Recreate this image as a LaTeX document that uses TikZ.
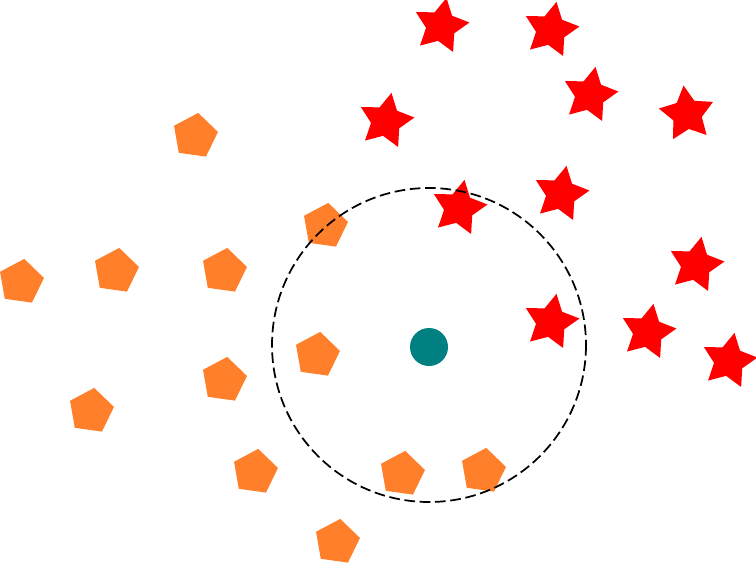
\documentclass[tikz,border=0pt]{standalone}
\usepackage{tikz}
\usetikzlibrary{shapes.geometric,positioning}

\definecolor{pentorange}{RGB}{255,127,42}
\definecolor{starred}{RGB}{255,0,0}
\definecolor{queryteal}{RGB}{0,128,128}

\begin{document}
\begin{tikzpicture}[
x=0.75pt, y=-0.75pt,
pent/.style={regular polygon, regular polygon sides=5, fill=pentorange, draw=none,
  minimum size=35pt, inner sep=0pt, rotate=-8},
staricon/.style={star, star points=5, star point ratio=1.9, fill=starred, draw=none,
  minimum size=43pt, inner sep=0pt, rotate=-11},
query/.style={circle, fill=queryteal, draw=none, minimum size=28.5pt, inner sep=0pt},
radius line/.style={draw=black, line width=1.3pt, dash pattern=on 8pt off 3.5pt}
]
\useasboundingbox (0,0) rectangle (756,562);

% Class A (pentagons)
\node[pent] (p1) at (195,136) {};
\node[pent] (p2) at (21,282) {};
\node[pent] (p3) at (116,271) {};
\node[pent] (p4) at (224,271) {};
\node[pent] (p5) at (325,226) {};
\node[pent] (p6) at (317,355) {};
\node[pent] (p7) at (224,380) {};
\node[pent] (p8) at (91,411) {};
\node[pent] (p9) at (255,472) {};
\node[pent] (p10) at (402,474) {};
\node[pent] (p11) at (483,471) {};
\node[pent] (p12) at (337,542) {};

% Class B (stars)
\node[staricon] (s1) at (441,26) {};
\node[staricon] (s2) at (551,30) {};
\node[staricon] (s3) at (590,95) {};
\node[staricon] (s4) at (386,121) {};
\node[staricon, rotate=18] (s5) at (687,114) {};
\node[staricon] (s6) at (561,194) {};
\node[staricon] (s7) at (459,208) {};
\node[staricon] (s8) at (696,265) {};
\node[staricon] (s9) at (551,322) {};
\node[staricon] (s10) at (648,332) {};
\node[staricon] (s11) at (729,361) {};

% Query point and its neighbourhood
\node[query] (q) at (429,347) {};
\draw[radius line] (429,345) circle [radius=157];

\end{tikzpicture}
\end{document}
